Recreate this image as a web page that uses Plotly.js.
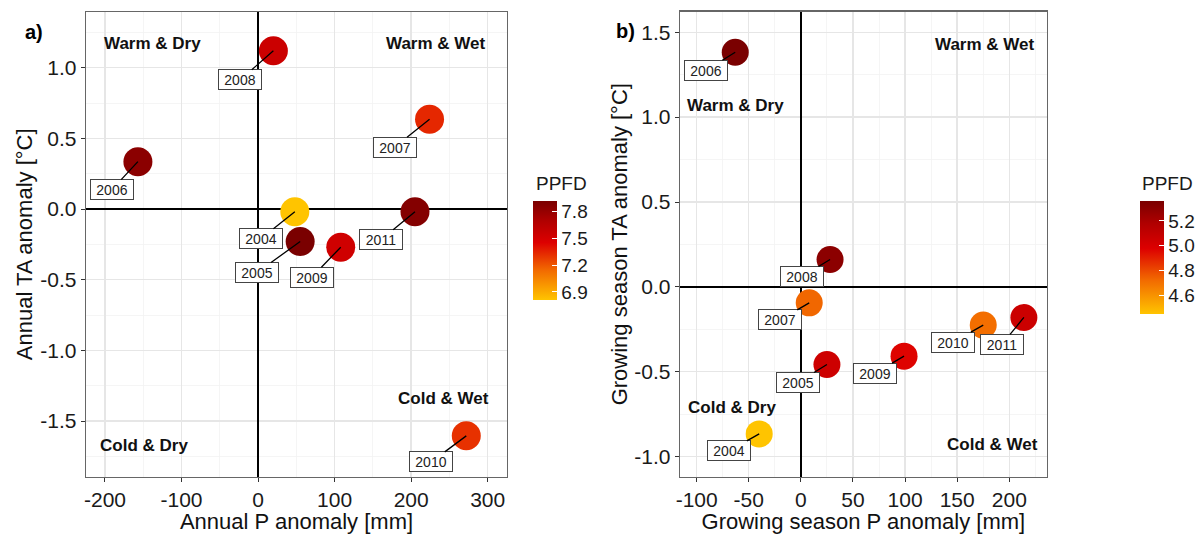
<!DOCTYPE html>
<html>
<head>
<meta charset="utf-8">
<script src="https://cdn.plot.ly/plotly-3.0.1.min.js"></script>
<style>html,body{margin:0;padding:0;background:#fff}#chart{width:1202px;height:534px}</style>
</head>
<body>
<div id="chart"></div>
<script>
// ---- data ----
const years = ['2004','2005','2006','2007','2008','2009','2010','2011'];
// panel a: annual
const annualP  = [48, 55, -157, 224, 20, 108, 272, 205];
const annualTA = [-0.02, -0.23, 0.335, 0.635, 1.12, -0.27, -1.605, -0.02];
const annualPPFD = [6.81, 7.92, 7.85, 7.34, 7.55, 7.53, 7.31, 7.88];
// panel b: growing season
const gsP  = [-40, 25, -63, 8, 28, 99, 175, 214];
const gsTA = [-0.866, -0.457, 1.382, -0.094, 0.161, -0.408, -0.225, -0.18];
const gsPPFD = [4.45, 5.05, 5.36, 4.73, 5.30, 4.97, 4.71, 5.06];
// tick labels
const xTickA = [-200, -100, 0, 100, 200, 300];
const yTickA = [-1.5, -1.0, -0.5, 0.0, 0.5, 1.0];
const xTickB = [-100, -50, 0, 50, 100, 150, 200];
const yTickB = [-1.0, -0.5, 0.0, 0.5, 1.0, 1.5];
const cbTickA = [6.9, 7.2, 7.5, 7.8];
const cbTickB = [4.6, 4.8, 5.0, 5.2];
const quadrants = ['Warm & Dry', 'Warm & Wet', 'Cold & Wet', 'Cold & Dry'];
const quadA = {x: [-138, 232, 242, -149], y: [1.168, 1.168, -1.34, -1.67]};
const quadB = {x: [-63, 177, 184, -66], y: [1.066, 1.425, -0.931, -0.713]};

// ---- styles ----
const FONT = 'Liberation Sans, Arial, sans-serif';
const fmtInt = v => (v < 0 ? '-' : '') + Math.abs(v).toFixed(0);
const fmt1 = v => (v < 0 ? '-' : '') + Math.abs(v).toFixed(1);
const colorscale = [[0, '#FFC400'], [0.3, '#F26A00'], [0.58, '#DD0000'], [0.8, '#B00000'], [1, '#7A0000']];
const MINOR = {showgrid: true, gridcolor: '#F2F2F2', gridwidth: 0.8};

function axisBase(extra) {
  return Object.assign({
    showgrid: true, gridcolor: '#E6E6E6', gridwidth: 1.4,
    zeroline: true, zerolinecolor: '#000', zerolinewidth: 1.5,
    showline: true, mirror: true, linecolor: '#666', linewidth: 1.3,
    ticks: 'outside', ticklen: 4, tickcolor: '#333',
    tickfont: {family: FONT, size: 21, color: '#1a1a1a'},
    fixedrange: true
  }, extra);
}

function trace(x, y, c, size, xa, ya, cmin, cmax, cb) {
  return {
    type: 'scatter', mode: 'markers', x: x, y: y, xaxis: xa, yaxis: ya,
    text: years, hoverinfo: 'text',
    marker: {size: size, color: c, colorscale: colorscale, cmin: cmin, cmax: cmax,
             line: {width: 0}, showscale: true, colorbar: cb}
  };
}

function cbar(xpx, toppx, lenpx, ticks) {
  return {
    x: xpx / 1202, xanchor: 'left', y: 1 - toppx / 534, yanchor: 'top',
    len: lenpx, lenmode: 'pixels', thickness: 24, thicknessmode: 'pixels',
    xpad: 0, ypad: 0, outlinewidth: 0,
    tickvals: ticks, ticktext: ticks.map(v => v.toFixed(1)),
    ticks: 'inside', ticklen: 5, tickcolor: '#fff', tickwidth: 1,
    tickfont: {family: FONT, size: 19, color: '#1a1a1a'},
    title: {text: ''}
  };
}

const tA = trace(annualP, annualTA, annualPPFD, 29, 'x', 'y',
  Math.min(...annualPPFD), Math.max(...annualPPFD), cbar(533, 201, 99, cbTickA));
const tB = trace(gsP, gsTA, gsPPFD, 27, 'x2', 'y2',
  Math.min(...gsPPFD), Math.max(...gsPPFD), cbar(1140, 201, 113, cbTickB));

// label offsets (pixels) for the year boxes
const offA = [[-34, 27], [-43, 31], [-26, 28], [-35, 28], [-33, 29], [-29, 30], [-35, 26], [-34, 28]];
const offB = [[-30, 17], [-29, 18], [-29, 18], [-29, 17], [-28, 17], [-29, 17], [-30, 17], [-22, 27]];

const annotations = [];
function yearLabels(xs, ys, offs, xr, yr) {
  years.forEach((yr_, i) => {
    annotations.push({
      x: xs[i], y: ys[i], xref: xr, yref: yr, text: yr_,
      showarrow: true, arrowhead: 0, arrowwidth: 1.3, arrowcolor: '#000',
      ax: offs[i][0], ay: offs[i][1], standoff: 0, startstandoff: 0,
      width: 38, height: 15,
      bgcolor: '#fff', bordercolor: '#444', borderwidth: 1, borderpad: 2,
      font: {family: FONT, size: 14, color: '#222'}
    });
  });
}
yearLabels(annualP, annualTA, offA, 'x', 'y');
yearLabels(gsP, gsTA, offB, 'x2', 'y2');

function quadLabels(q, xr, yr) {
  quadrants.forEach((t, i) => annotations.push({
    x: q.x[i], y: q.y[i], xref: xr, yref: yr, text: '<b>' + t + '</b>',
    showarrow: false, font: {family: FONT, size: 17, color: '#111'}
  }));
}
quadLabels(quadA, 'x', 'y');
quadLabels(quadB, 'x2', 'y2');

annotations.push(
  {x: 23 / 1202, y: 1 - 19 / 534, xref: 'paper', yref: 'paper', text: '<b>a)</b>', showarrow: false,
   font: {family: FONT, size: 20, color: '#000'}},
  {x: 625 / 1202, y: 1 - 18 / 534, xref: 'paper', yref: 'paper', text: '<b>b)</b>', showarrow: false,
   font: {family: FONT, size: 20, color: '#000'}},
  {x: 534 / 1202, y: 1 - 184 / 534, xref: 'paper', yref: 'paper', xanchor: 'left', text: 'PPFD', showarrow: false,
   font: {family: FONT, size: 19, color: '#1a1a1a'}},
  {x: 1140 / 1202, y: 1 - 183 / 534, xref: 'paper', yref: 'paper', xanchor: 'left', text: 'PPFD', showarrow: false,
   font: {family: FONT, size: 19, color: '#1a1a1a'}}
);

const titleFont = {family: FONT, size: 22, color: '#111'};

const layout = {
  width: 1202, height: 534,
  margin: {l: 0, r: 0, t: 0, b: 0},
  paper_bgcolor: '#fff', plot_bgcolor: '#fff',
  showlegend: false,
  xaxis: axisBase({domain: [86 / 1202, 507 / 1202], range: [-224.8, 325.2], anchor: 'y',
    tickvals: xTickA, ticktext: xTickA.map(fmtInt), minor: Object.assign({dtick: 50, tick0: 0}, MINOR),
    title: {text: 'Annual P anomaly [mm]', font: titleFont, standoff: 0}}),
  yaxis: axisBase({domain: [1 - 476.7 / 534, 1 - 12 / 534], range: [-1.894, 1.394], anchor: 'x',
    tickvals: yTickA, ticktext: yTickA.map(fmt1), minor: Object.assign({dtick: 0.25, tick0: 0}, MINOR),
    title: {text: 'Annual TA anomaly [°C]', font: titleFont, standoff: 1}}),
  xaxis2: axisBase({domain: [680 / 1202, 1046.7 / 1202], range: [-116, 235.9], anchor: 'y2',
    tickvals: xTickB, ticktext: xTickB.map(fmtInt), minor: Object.assign({dtick: 25, tick0: 0}, MINOR),
    title: {text: 'Growing season P anomaly [mm]', font: titleFont, standoff: 0}}),
  yaxis2: axisBase({domain: [1 - 476.7 / 534, 1 - 11.7 / 534], range: [-1.118, 1.621], anchor: 'x2',
    tickvals: yTickB, ticktext: yTickB.map(fmt1), minor: Object.assign({dtick: 0.25, tick0: 0}, MINOR),
    title: {text: 'Growing season TA anomaly [°C]', font: titleFont, standoff: 0}}),
  annotations: annotations
};

Plotly.newPlot('chart', [tA, tB], layout, {displayModeBar: false, staticPlot: true});
</script>
</body>
</html>
